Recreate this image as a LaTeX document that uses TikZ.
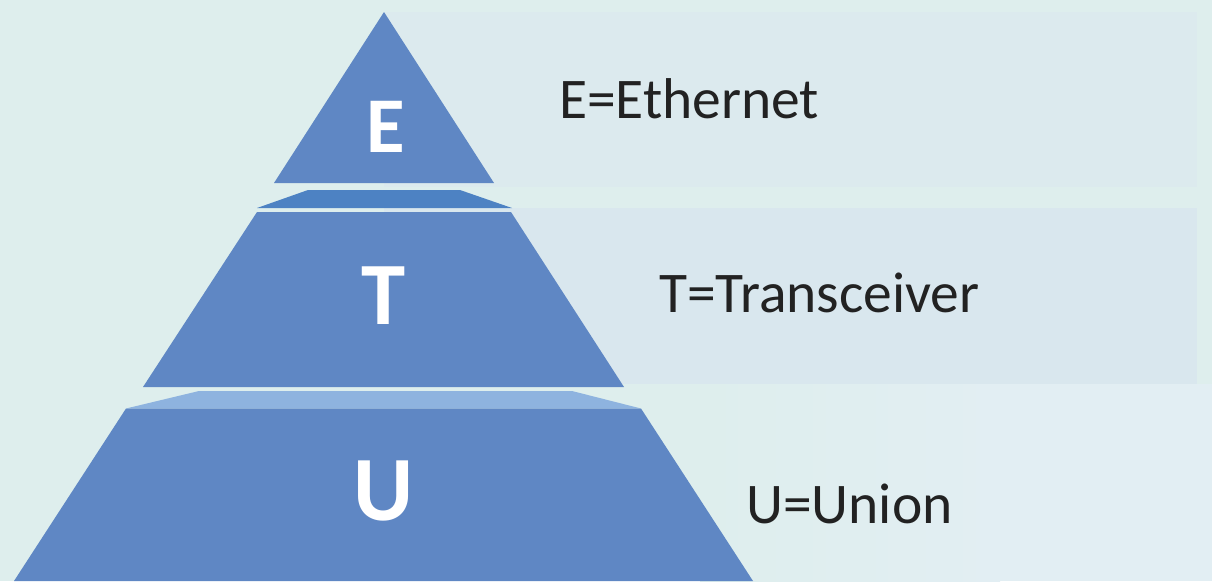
\documentclass[tikz,border=0pt]{standalone}
\usepackage{fontspec}
\setmainfont{Carlito}
\definecolor{bgc}{HTML}{DEEEED}
\definecolor{panelA}{HTML}{DCEAEE}
\definecolor{panelB}{HTML}{D9E7EE}
\definecolor{lowlight}{HTML}{E2EEF3}
\definecolor{pyr}{HTML}{5F87C4}
\definecolor{capA}{HTML}{4D82C3}
\definecolor{capB}{HTML}{8EB3DF}
\definecolor{txt}{HTML}{222222}
\begin{document}
\begin{tikzpicture}[x=1pt,y=-1pt,
  label/.style={inner sep=0pt,anchor=base west,text=txt,font=\fontsize{57.5}{60}\selectfont},
  letter/.style={inner sep=0pt,anchor=base,text=white,font=\bfseries\fontsize{#1}{#1}\selectfont}]
\fill[bgc] (0,0) rectangle (1212,581);
\useasboundingbox (0,0) rectangle (1212,581);
% background panels
\fill[lowlight] (1000,384) rectangle (1212,581);
\shade[left color=bgc,right color=lowlight] (700,384) rectangle (1000,581);
\fill[panelA] (384,12) rectangle (1197,187);
\fill[panelB] (384,208) rectangle (1197,384);
% pyramid
\fill[pyr] (384,12) -- (494,183) -- (274,183) -- cycle;
\fill[capA] (308,190) -- (460,190) -- (512,208) -- (257,208) -- cycle;
\fill[pyr] (257,212) -- (511,212) -- (624,387) -- (143,387) -- cycle;
\fill[capB] (199,391) -- (572,391) -- (641,408.5) -- (126,408.5) -- cycle;
\fill[pyr] (126,408.5) -- (641,408.5) -- (753,581) -- (14,581) -- cycle;
% letters
\node[letter=79] (lE) at (385.5,152) {E};
\node[letter=89] (lT) at (383.5,324) {T};
\node[letter=92] (lU) at (383.5,520) {U};
% labels
\node[label] (tE) at (559,118) {E=Ethernet};
\node[label] (tT) at (659,312) {T=Transceiver};
\node[label] (tU) at (746,523) {U=Union};
\end{tikzpicture}
\end{document}
